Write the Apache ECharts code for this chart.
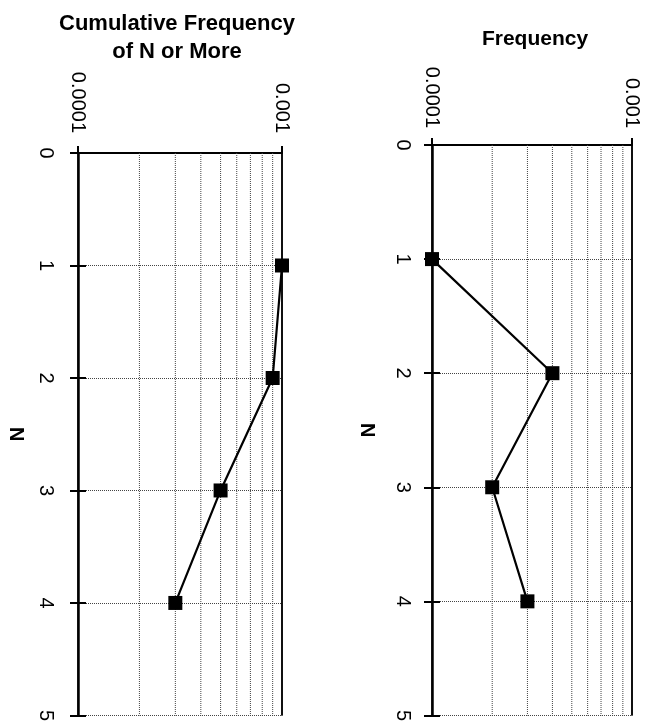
<!DOCTYPE html>
<html>
<head>
<meta charset="utf-8">
<script src="https://cdn.jsdelivr.net/npm/echarts@6/dist/echarts.min.js"></script>
<style>
  html, body { margin: 0; padding: 0; background: #fff; }
  #chart { width: 649px; height: 724px; }
</style>
</head>
<body>
<div id="chart"></div>
<script>
// N values (vertical axis) and the two measured series
const nValues = [1, 2, 3, 4];
const cumulativeFreq = [0.001, 0.0009, 0.0005, 0.0003];
const frequency = [0.0001, 0.0004, 0.0002, 0.0003];

// Log axis range, its labels and the intermediate decade gridlines
const logMin = 0.0001;
const logMax = 0.001;
const logTickLabels = ['0.0001', '0.001'];
const decadeGrid = [0.0002, 0.0003, 0.0004, 0.0005, 0.0006, 0.0007, 0.0008, 0.0009];
const nRange = [0, 5];

const panelTitles = ['Cumulative Frequency\nof N or More', 'Frequency'];
const nAxisName = 'N';

const FONT = '"Liberation Sans", Arial, sans-serif';
const GRID_DOT = { color: '#444', width: 1, type: [1, 1] };

function pairs(xs, ys) {
  return ys.map((n, i) => [xs[i], n]);
}

function logAxis(gridIndex, labelMargin) {
  return {
    type: 'log',
    logBase: 10,
    gridIndex: gridIndex,
    position: 'top',
    min: logMin,
    max: logMax,
    axisLine: { show: true, lineStyle: { color: '#000', width: 2 } },
    axisTick: { show: true, inside: false, length: 7, lineStyle: { color: '#000', width: 2 } },
    axisLabel: {
      rotate: -90,
      margin: labelMargin,
      color: '#000',
      fontFamily: FONT,
      fontSize: 20,
      formatter: function (v) {
        const i = Math.round(Math.log10(v) - Math.log10(logMin));
        return logTickLabels[i] !== undefined ? logTickLabels[i] : '';
      }
    },
    splitLine: { show: true, lineStyle: { color: '#000', width: 1.5, type: 'solid' } }
  };
}

function nAxis(gridIndex, nameGap, labelMargin) {
  return {
    type: 'value',
    gridIndex: gridIndex,
    position: 'left',
    inverse: true,
    min: nRange[0],
    max: nRange[1],
    interval: 1,
    name: nAxisName,
    nameLocation: 'middle',
    nameGap: nameGap,
    nameRotate: -90,
    nameMoveOverlap: false,
    nameTextStyle: { color: '#000', fontFamily: FONT, fontSize: 20, fontWeight: 'bold' },
    axisLine: { show: true, onZero: false, lineStyle: { color: '#000', width: 2.5 } },
    axisTick: { show: true, inside: false, length: 8, lineStyle: { color: '#000', width: 2 } },
    axisLabel: {
      rotate: -90,
      margin: labelMargin,
      color: '#000',
      fontFamily: FONT,
      fontSize: 20
    },
    splitLine: { show: true, lineStyle: GRID_DOT }
  };
}

// Second copy of the N axis carrying the inward half of the cross ticks
function nAxisInner(gridIndex) {
  return {
    type: 'value',
    gridIndex: gridIndex,
    position: 'left',
    inverse: true,
    min: nRange[0],
    max: nRange[1],
    interval: 1,
    axisLine: { show: false },
    axisTick: { show: true, inside: true, length: 8, lineStyle: { color: '#000', width: 2 } },
    axisLabel: { show: false },
    splitLine: { show: false }
  };
}

function lineSeries(xAxisIndex, yAxisIndex, values) {
  return {
    type: 'line',
    xAxisIndex: xAxisIndex,
    yAxisIndex: yAxisIndex,
    data: pairs(values, nValues),
    clip: false,
    symbol: 'rect',
    symbolSize: 14,
    itemStyle: { color: '#000' },
    lineStyle: { color: '#000', width: 2.2 },
    z: 5
  };
}

// Dotted vertical gridlines at 2..9 x 10^-4, one short line series each
function decadeGridSeries(xAxisIndex, yAxisIndex) {
  return decadeGrid.map(v => ({
    type: 'line',
    xAxisIndex: xAxisIndex,
    yAxisIndex: yAxisIndex,
    data: [[v, nRange[0]], [v, nRange[1]]],
    symbol: 'none',
    silent: true,
    lineStyle: GRID_DOT,
    z: 1
  }));
}

const chart = echarts.init(document.getElementById('chart'), null, { renderer: 'canvas' });

chart.setOption({
  animation: false,
  backgroundColor: '#fff',
  title: [
    {
      text: panelTitles[0],
      left: 172,
      top: 5,
      textAlign: 'center',
      textStyle: { color: '#000', fontFamily: FONT, fontSize: 22, fontWeight: 'bold', lineHeight: 28 }
    },
    {
      text: panelTitles[1],
      left: 530,
      top: 24,
      textAlign: 'center',
      textStyle: { color: '#000', fontFamily: FONT, fontSize: 21, fontWeight: 'bold' }
    }
  ],
  grid: [
    { left: 78, top: 153, width: 204, height: 564 },
    { left: 432, top: 145, width: 200, height: 572 }
  ],
  xAxis: [logAxis(0, 20), logAxis(1, 17)],
  yAxis: [nAxis(0, 52, 22), nAxisInner(0), nAxis(1, 55, 19), nAxisInner(1)],
  series: [
    ...decadeGridSeries(0, 0),
    ...decadeGridSeries(1, 2),
    lineSeries(0, 0, cumulativeFreq),
    lineSeries(1, 2, frequency)
  ]
});
</script>
</body>
</html>
